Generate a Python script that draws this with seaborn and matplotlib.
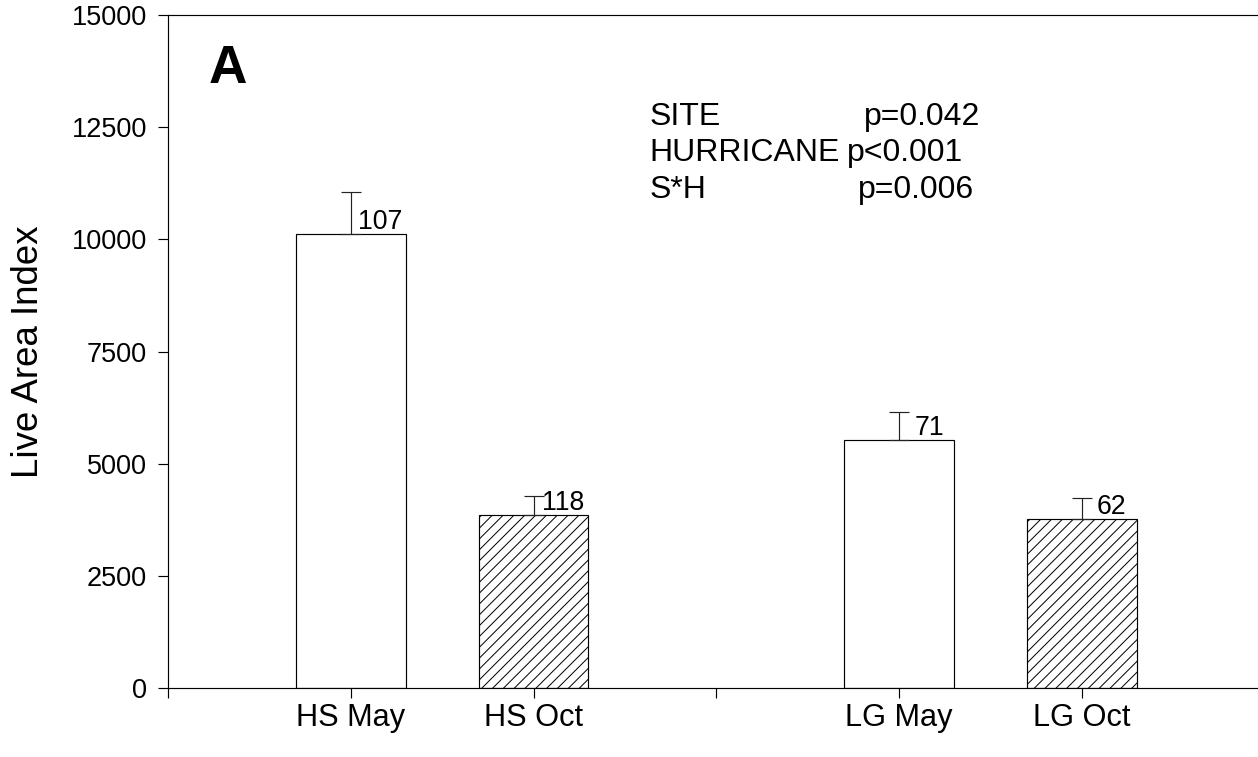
import numpy as np
import pandas as pd
import matplotlib
matplotlib.use('Agg')
import matplotlib.pyplot as plt
import seaborn as sns

#==========================================================
# data
#==========================================================
categories = ['HS May', 'HS Oct', 'LG May', 'LG Oct']
sites = ['HS', 'HS', 'LG', 'LG']
months = ['May', 'Oct', 'May', 'Oct']
live_area = [10120, 3860, 5530, 3770]
sem = [935, 420, 620, 465]
n_labels = ['107', '118', '71', '62']

stat_terms = ['SITE', 'HURRICANE', 'S*H']
stat_pvals = ['p=0.042', 'p<0.001', 'p=0.006']

# bar positions: two bars per site, one empty slot between sites
site_order = ['HS', 'LG']
month_order = ['May', 'Oct']
pos = [site_order.index(s) * 3 + month_order.index(m) + 1 for s, m in zip(sites, months)]

df = pd.DataFrame({'pos': pos, 'live_area': live_area, 'sem': sem,
                   'month': months, 'label': categories})

DPI = 65
sns.set_style('ticks')
plt.rcParams['font.family'] = ['Liberation Sans', 'DejaVu Sans']
plt.rcParams['text.color'] = 'black'
plt.rcParams['axes.labelcolor'] = 'black'
plt.rcParams['xtick.color'] = 'black'
plt.rcParams['ytick.color'] = 'black'
plt.rcParams['hatch.linewidth'] = 1.1
plt.rcParams['hatch.color'] = 'black'

fig = plt.figure(figsize=(1258 / DPI, 757 / DPI), dpi=DPI)
ax = fig.add_axes([168 / 1258, 1 - 688 / 757, 1090 / 1258, 673 / 757])

sns.barplot(data=df, x='pos', y='live_area', native_scale=True, width=0.6,
            color='white', saturation=1, edgecolor='black', linewidth=1.3,
            errorbar=None, ax=ax)

# hatch the October bars
for patch, m in zip(ax.patches, df['month']):
    if m == 'Oct':
        patch.set_hatch('//')

# upper error bars only
ax.errorbar(df['pos'], df['live_area'], yerr=[np.zeros(len(df)), df['sem']],
            fmt='none', ecolor='#222222', elinewidth=1.3, capsize=11, capthick=1.3)

# sample sizes next to the error bars
for p, v, n in zip(df['pos'], df['live_area'], n_labels):
    ax.annotate(n, xy=(p, v), xytext=(33, 5), textcoords='offset points',
                ha='center', va='baseline', fontsize=29.5)

# axes
ticks = list(range(6))
tick_labels = ['' if t not in pos else categories[pos.index(t)] for t in ticks]
ax.set_xticks(ticks)
ax.set_xticklabels(tick_labels)
ax.set_xlim(0, 1090 / 182.8)
ax.set_ylim(0, 15000)
ax.set_yticks(np.arange(0, 15001, 2500))
ax.set_xlabel('')
ax.set_ylabel('Live Area Index', fontsize=40.5)
ax.yaxis.set_label_coords(-0.112, 0.5)

ax.tick_params(axis='both', direction='out', length=11, width=1.3,
               color='black', labelcolor='black')
ax.tick_params(axis='y', labelsize=30, pad=12)
ax.tick_params(axis='x', labelsize=34, pad=6)

ax.spines['right'].set_visible(False)
for s in ['left', 'bottom', 'top']:
    ax.spines[s].set_linewidth(1.3)
    ax.spines[s].set_color('black')

# panel letter and statistics
ax.text(0.224, 13480, 'A', fontsize=59, fontweight='bold', va='baseline')
stat_y = [12548, 11746, 10921]
pval_x = [3.809, 3.716, 3.776]
for term, pv, y, px in zip(stat_terms, stat_pvals, stat_y, pval_x):
    ax.text(2.634, y, term, fontsize=35.5, va='baseline')
    ax.text(px, y, pv, fontsize=35.5, va='baseline')

fig.savefig('out.png', dpi=DPI)
